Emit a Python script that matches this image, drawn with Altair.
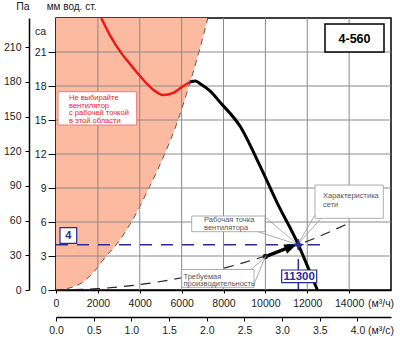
import altair as alt
import pandas as pd

FONT = "Liberation Sans"
PINK = "#FCBBA1"
BLUE = "#2B2B96"
GRAY_TXT = "#555555"

# ---- axis ticks ----
flow_ticks = [0, 2000, 4000, 6000, 8000, 10000, 12000, 14000]          # m3/h
flow_ms_ticks = [0.0, 0.5, 1.0, 1.5, 2.0, 2.5, 3.0, 3.5, 4.0]          # m3/s
mm_ticks = [0, 3, 6, 9, 12, 15, 18, 21]                                # mm w.c.
pa_ticks = [0, 30, 60, 90, 120, 150, 180, 210]                         # Pa
grid_flow = [2000, 4000, 6000, 8000, 10000, 12000, 14000]
grid_mm = [3, 6, 9, 12, 15, 18, 21]

# ---- "do not select" region boundary ----
bound_mm = [0, 0.3, 0.6, 1.5, 3, 4, 6, 9, 12, 15, 18, 21, 24]
bound_flow = [0, 850, 1200, 1760, 2400, 2880, 3600, 4440, 5190, 5830, 6350, 6830, 7250]

# ---- fan curve, unstable part (red) ----
red_flow = [2160, 2600, 3120, 3600, 4000, 4630, 5110, 5600, 6000, 6400]
red_mm = [24.0, 22.4, 20.9, 19.8, 18.9, 17.7, 17.2, 17.4, 17.9, 18.35]

# ---- fan curve, working part (black) ----
fan_flow = [6400, 6650, 6886, 7366, 7846, 8800, 9760, 10570, 11574, 12000, 12486]
fan_mm = [18.35, 18.45, 18.2, 17.55, 16.55, 14.42, 10.88, 7.67, 4.0, 2.15, 0.0]

# ---- network characteristic (dashed) ----
net_flow = [0, 2000, 4000, 6000, 8000, 10000, 11574, 12000, 14000]
net_mm = [0, 0.12, 0.48, 1.08, 1.92, 3.0, 4.0, 4.3, 5.9]

# ---- points ----
work_flow = [11574]
work_mm = [4.0]
req_flow = [10000]
req_mm = [2.95]
arrow_flow = [10000, 11041]
arrow_mm = [2.95, 3.69]
head_flow = [11218]
head_mm = [3.81]
line4_flow = [0, 12800]
vline_mm = [0, 5.1]

XMAX, YMAX = 16000, 24
PA_PER_MM = 9.80665

xs = alt.Scale(domain=[0, XMAX], nice=False, zero=False)
ys = alt.Scale(domain=[0, YMAX], nice=False, zero=False)
common_axis = dict(title=None, grid=False, domainColor="black", domainWidth=1.5,
                   tickColor="black", tickWidth=1, labelFontSize=10.5, labelColor="#222222",
                   labelFont=FONT, labelFlush=False, labelOverlap=False, labelBound=False)
x_axis = alt.Axis(values=flow_ticks, format="d", tickSize=3, labelPadding=5, orient="bottom", **common_axis)
y_axis = alt.Axis(values=mm_ticks, format="d", tickSize=8, labelPadding=2, orient="left", **common_axis)


def X(f):
    return alt.X(f"{f}:Q", scale=xs, axis=x_axis)


def Y(f):
    return alt.Y(f"{f}:Q", scale=ys, axis=y_axis)


one = pd.DataFrame({"a": [0]})

df_bound = pd.DataFrame({"flow": bound_flow, "mm": bound_mm})
pink = alt.Chart(df_bound).mark_area(color=PINK, interpolate="monotone", opacity=1).encode(
    x=X("flow"), y=Y("mm"), y2=alt.datum(YMAX))
pink_edge = alt.Chart(df_bound).mark_line(color="#333333", strokeWidth=0.8, strokeDash=[6, 5],
                                          interpolate="monotone").encode(x=X("flow"), y=Y("mm"))

gx = alt.Chart(pd.DataFrame({"flow": grid_flow})).mark_rule(color="#8a8a8a", strokeWidth=1).encode(x=X("flow"))
gy = alt.Chart(pd.DataFrame({"mm": grid_mm})).mark_rule(color="#8a8a8a", strokeWidth=1).encode(y=Y("mm"))

net = alt.Chart(pd.DataFrame({"flow": net_flow, "mm": net_mm})).mark_line(
    color="#222222", strokeWidth=1.2, strokeDash=[10, 7], interpolate="monotone").encode(x=X("flow"), y=Y("mm"))
red = alt.Chart(pd.DataFrame({"flow": red_flow, "mm": red_mm})).mark_line(
    color="#F01818", strokeWidth=2.5, interpolate="monotone").encode(x=X("flow"), y=Y("mm"))
fan = alt.Chart(pd.DataFrame({"flow": fan_flow, "mm": fan_mm})).mark_line(
    color="black", strokeWidth=3, interpolate="monotone").encode(x=X("flow"), y=Y("mm"))

hline = alt.Chart(pd.DataFrame({"x": [line4_flow[0]], "x2": [line4_flow[1]], "y": work_mm})).mark_rule(
    color=BLUE, strokeWidth=1.5, strokeDash=[12, 9]).encode(x=X("x"), x2="x2:Q", y=Y("y"))
vline = alt.Chart(pd.DataFrame({"x": work_flow, "y": [vline_mm[0]], "y2": [vline_mm[1]]})).mark_rule(
    color=BLUE, strokeWidth=1.5, strokeDash=[11, 9]).encode(x=X("x"), y=Y("y"), y2="y2:Q")

shaft = alt.Chart(pd.DataFrame({"flow": arrow_flow, "mm": arrow_mm})).mark_line(
    color="black", strokeWidth=3.5).encode(x=X("flow"), y=Y("mm"))
head = alt.Chart(pd.DataFrame({"flow": head_flow, "mm": head_mm})).mark_point(
    shape="M1,0L-1,-0.8L-1,0.8Z", size=150, filled=True, color="black", opacity=1, angle=338).encode(
    x=X("flow"), y=Y("mm"))
dot = alt.Chart(pd.DataFrame({"flow": req_flow, "mm": req_mm})).mark_point(
    shape="circle", size=30, filled=True, color="#222222", opacity=1).encode(x=X("flow"), y=Y("mm"))
star = alt.Chart(pd.DataFrame({"flow": work_flow, "mm": work_mm})).mark_point(
    shape="M0,-1L0.3,-0.3L1,0L0.3,0.3L0,1L-0.3,0.3L-1,0L-0.3,-0.3Z", size=140, filled=True,
    color=BLUE, opacity=1).encode(x=X("flow"), y=Y("mm"))


def box(x1, y1, x2, y2, stroke, sw=1.0):
    return alt.Chart(one).mark_rect(fill="white", stroke=stroke, strokeWidth=sw).encode(
        x=alt.value(x1), x2=alt.value(x2), y=alt.value(y1), y2=alt.value(y2))


def seg(x1, y1, x2, y2, color="#999999", sw=0.8):
    return alt.Chart(one).mark_rule(color=color, strokeWidth=sw).encode(
        x=alt.value(x1), x2=alt.value(x2), y=alt.value(y1), y2=alt.value(y2))


def txt(x, y, s, size, color, align="left", weight="normal"):
    return alt.Chart(one).mark_text(align=align, baseline="middle", fontSize=size, color=color,
                                    fontWeight=weight, font=FONT).encode(
        x=alt.value(x), y=alt.value(y), text=alt.value(s))


annotations = [
    # model label
    box(269, 6, 328, 34, "black", 1.5),
    txt(298.5, 20.5, "4-560", 12.5, "black", "center", "bold"),
    # warning box
    box(2, 73.7, 80.7, 107, "#F07878", 1.0),
    txt(13, 79.7, "Не выбирайте", 7.5, "#F02020"),
    txt(13, 87.6, "вентилятор", 7.5, "#F02020"),
    txt(13, 95.4, "с рабочей точкой", 7.5, "#F02020"),
    txt(13, 103.1, "в этой области", 7.5, "#F02020"),
    # working point callout
    seg(209, 199, 241.7, 226.5), seg(202, 213.7, 241.7, 226.5),
    box(135.7, 198, 209, 213.7, "#999999", 0.8),
    txt(148, 202.3, "Рабочая точка", 7.5, GRAY_TXT),
    txt(148, 210.4, "вентилятора", 7.5, GRAY_TXT),
    # network callout
    seg(259, 197, 241.7, 226.5), seg(265, 200.3, 241.7, 226.5),
    box(259, 167, 327.3, 200.3, "#999999", 0.8),
    txt(267, 178, "Характеристика", 7.5, GRAY_TXT),
    txt(267, 187, "сети", 7.5, GRAY_TXT),
    # required flow callout
    seg(195, 251.5, 209.4, 238.8), seg(198, 266, 209.4, 238.8),
    box(125.7, 251.5, 198, 269.3, "#999999", 0.8),
    txt(127.5, 258.5, "Требуемая", 7.5, GRAY_TXT),
    txt(127.5, 266, "производительность", 7.5, GRAY_TXT),
    # value boxes
    box(4, 209.7, 20.7, 225.3, BLUE, 1.2),
    txt(12.3, 217.7, "4", 11, BLUE, "center", "bold"),
    box(225.7, 252, 260.7, 264.7, BLUE, 1.2),
    txt(243.2, 258.7, "11300", 11.5, BLUE, "center", "bold"),
    # outside texts
    txt(-33, -11, "Па", 10.5, "#222222", "center"),
    txt(-9.3, -11, "мм вод. ст.", 10, "#222222"),
    txt(-21, 14, "са", 10.5, "#222222"),
    txt(312, 285.5, "(м³/ч)", 10.5, "#222222"),
    txt(312, 313, "(м³/с)", 10.5, "#222222"),
]

main = alt.layer(pink, pink_edge, gx, gy, net, red, fan, hline, vline, shaft, head, dot,
                 *annotations[:-7], star, *annotations[-7:])

# secondary axes: m3/s and Pa
sec_df = pd.DataFrame({"ms": [0.0, XMAX / 3600.0], "pa": [0.0, YMAX * PA_PER_MM]})
sec = alt.Chart(sec_df).mark_point(opacity=0).encode(
    x=alt.X("ms:Q", scale=alt.Scale(domain=[0, XMAX / 3600.0], nice=False, zero=False),
            axis=alt.Axis(values=flow_ms_ticks, format=".1f", orient="bottom", offset=27,
                          tickSize=4, labelPadding=4, **common_axis)),
    y=alt.Y("pa:Q", scale=alt.Scale(domain=[0, YMAX * PA_PER_MM], nice=False, zero=False),
            axis=alt.Axis(values=pa_ticks, format="d", orient="left", offset=27, tickSize=4, labelPadding=4,
                          **common_axis)),
)

chart = alt.layer(main, sec).resolve_scale(x="independent", y="independent").properties(
    width=335, height=272,
    autosize=alt.AutoSizeParams(type="none"),
    padding={"left": 56, "top": 18, "right": 9, "bottom": 50},
    background="white",
).configure_view(stroke="black", strokeWidth=1.5).configure_text(font=FONT)

chart.save("out.html", embed_options={"renderer": "svg", "actions": False})
